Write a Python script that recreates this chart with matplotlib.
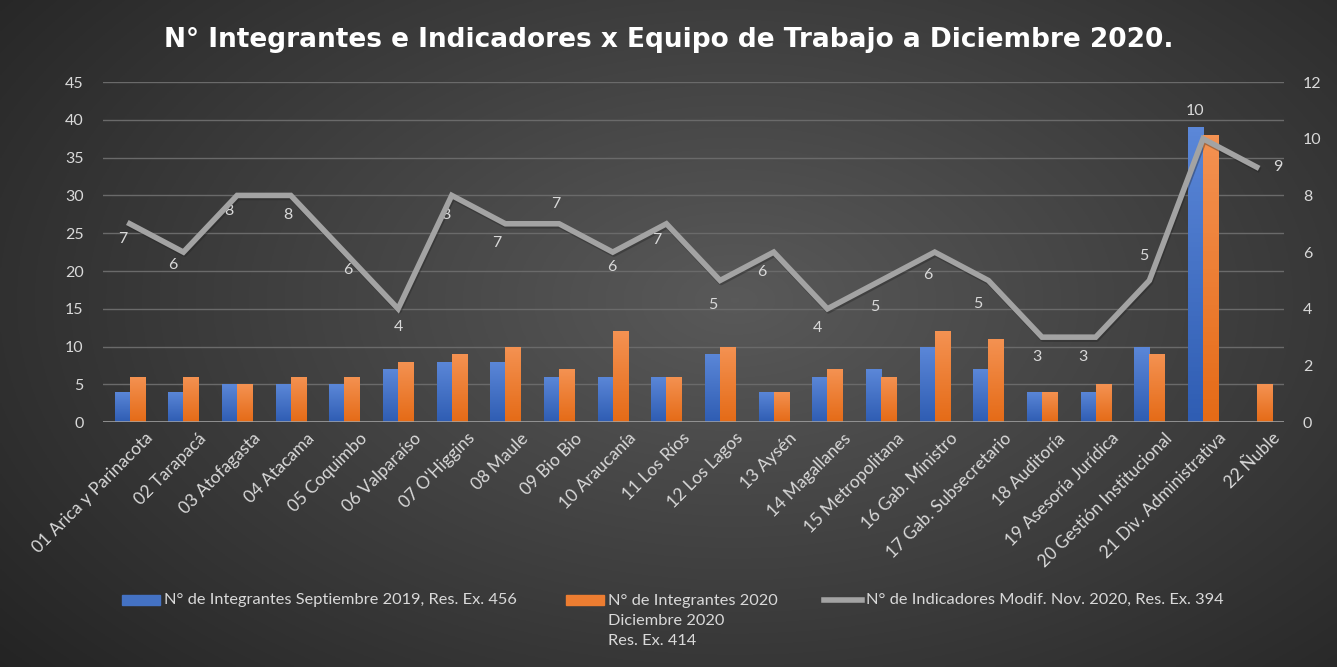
import numpy as np
import matplotlib.pyplot as plt
from matplotlib.patches import Rectangle
from matplotlib.lines import Line2D
import matplotlib.transforms as mtransforms

equipos = ['01 Arica y Parinacota', '02 Tarapacá', '03 Atofagasta', '04 Atacama',
           '05 Coquimbo', '06 Valparaíso', "07 O'Higgins", '08 Maule', '09 Bio Bio',
           '10 Araucanía', '11 Los Ríos', '12 Los Lagos', '13 Aysén', '14 Magallanes',
           '15 Metropolitana', '16 Gab. Ministro', '17 Gab. Subsecretario', '18 Auditoría',
           '19 Asesoría Jurídica', '20 Gestión Institucional', '21 Div. Administrativa',
           '22 Ñuble']
integrantes_2019 = [4, 4, 5, 5, 5, 7, 8, 8, 6, 6, 6, 9, 4, 6, 7, 10, 7, 4, 4, 10, 39, np.nan]
integrantes_2020 = [6, 6, 5, 6, 6, 8, 9, 10, 7, 12, 6, 10, 4, 7, 6, 12, 11, 4, 5, 9, 38, 5]
indicadores = [7, 6, 8, 8, 6, 4, 8, 7, 7, 6, 7, 5, 6, 4, 5, 6, 5, 3, 3, 5, 10, 9]
# label offsets in pixels (dx, dy) relative to each line point
label_offsets = [(-7, -15), (-11, -13), (-8, -16), (-3, -20), (3, -18), (0, -18),
                 (-6, -20), (-9, -19), (-3, 20), (-1, -15), (-10, -16), (-7, -25),
                 (-12, -20), (-10, -19), (-6, -27), (-7, -23), (-11, -24), (-5, -20),
                 (-13, -20), (-6, 24), (-8, 28), (21, 0)]

txt = '#d9d9d9'
plt.rcParams['font.family'] = ['Lato', 'DejaVu Sans']

fig = plt.figure(figsize=(13.37, 6.67), dpi=100)

# radial gradient background
bg = fig.add_axes([0, 0, 1, 1], zorder=-10)
yy, xx = np.mgrid[0:1:300j, 0:1:600j]
r = np.sqrt(((xx - 0.55) / 0.75) ** 2 + ((yy - 0.45) / 0.9) ** 2)
shade = np.clip(0.35 - 0.22 * r, 0.14, 0.36)
bg.imshow(np.dstack([shade] * 3), extent=[0, 1, 0, 1], aspect='auto')
bg.axis('off')

ax = fig.add_axes([0.077, 0.367, 0.883, 0.51])
ax.patch.set_alpha(0)
x = np.arange(len(equipos))
w = 0.28

b1 = ax.bar(x - w / 2, integrantes_2019, w, color='#4472c4', zorder=2)
b2 = ax.bar(x + w / 2, integrantes_2020, w, color='#ed7d31', zorder=2)

def gradient(bars, top, bottom):
    grad = np.linspace(0, 1, 64).reshape(-1, 1)
    top = np.array(plt.matplotlib.colors.to_rgb(top))
    bottom = np.array(plt.matplotlib.colors.to_rgb(bottom))
    img = top * (1 - grad)[:, :, None] + bottom * grad[:, :, None]
    for b in bars:
        h = b.get_height()
        if not np.isfinite(h) or h == 0:
            continue
        x0 = b.get_x()
        im = ax.imshow(img, extent=[x0, x0 + b.get_width(), 0, h], aspect='auto',
                       zorder=2.5, origin='upper')
        im.set_clip_path(b)

gradient(b1, '#5b87d8', '#2f5db3')
gradient(b2, '#f49252', '#e56b17')

ax.set_xlim(-0.5, len(equipos) - 0.5)
ax.set_ylim(0, 45)
ax.set_yticks(range(0, 46, 5))
ax.grid(axis='y', color='#6a6a6a', lw=1, zorder=0)
ax.axhline(0, color='#a6a6a6', lw=1.8, zorder=3)
for s in ax.spines.values():
    s.set_visible(False)
ax.tick_params(axis='both', length=0, colors=txt, labelsize=11.5)
ax.tick_params(axis='y', pad=14)
ax.set_xticks(x)
ax.set_xticklabels(equipos, rotation=45, ha='right', rotation_mode='anchor', fontsize=12.5)
offset = mtransforms.ScaledTranslation(15 / 100, -3 / 100, fig.dpi_scale_trans)
for lab in ax.get_xticklabels():
    lab.set_transform(lab.get_transform() + offset)

ax2 = ax.twinx()
ax2.set_ylim(0, 12)
ax2.set_yticks(range(0, 13, 2))
for s in ax2.spines.values():
    s.set_visible(False)
ax2.tick_params(axis='y', length=0, colors=txt, labelsize=11.5, pad=14)
ax2.plot(x, indicadores, color='#1e1e1e', lw=4, alpha=0.35, zorder=3,
         transform=ax2.transData + mtransforms.ScaledTranslation(1 / 100, -2 / 100, fig.dpi_scale_trans))
ax2.plot(x, indicadores, color='#a3a3a3', lw=4, solid_joinstyle='miter', zorder=4)
for xi, v, (dx, dy) in zip(x, indicadores, label_offsets):
    ax2.annotate(str(v), (xi, v), xytext=(dx * 0.72, dy * 0.72), textcoords='offset points',
                 ha='center', va='center', color=txt, fontsize=11.5)

fig.text(0.5, 0.94, 'N° Integrantes e Indicadores x Equipo de Trabajo a Diciembre 2020.',
         ha='center', va='center', color='white', fontsize=19, fontweight='bold',
         family='DejaVu Sans')

# legend
ly = 1 - 600 / 667
fig.add_artist(Rectangle((122 / 1337, ly - 0.008), 38 / 1337, 0.016,
                         transform=fig.transFigure, color='#4472c4'))
fig.text(164 / 1337, ly, 'N° de Integrantes Septiembre 2019, Res. Ex. 456',
         color=txt, fontsize=11.8, va='center')
fig.add_artist(Rectangle((566 / 1337, ly - 0.008), 38 / 1337, 0.016,
                         transform=fig.transFigure, color='#ed7d31'))
fig.text(608 / 1337, ly + 0.009, 'N° de Integrantes 2020\nDiciembre 2020\nRes. Ex. 414',
         color=txt, fontsize=11.8, va='top', linespacing=1.56)
fig.add_artist(Line2D([824 / 1337, 862 / 1337], [ly, ly], transform=fig.transFigure,
                      color='#a3a3a3', lw=4))
fig.text(866 / 1337, ly, 'N° de Indicadores Modif. Nov. 2020, Res. Ex. 394',
         color=txt, fontsize=11.8, va='center')

fig.savefig('out.png', dpi=100)
